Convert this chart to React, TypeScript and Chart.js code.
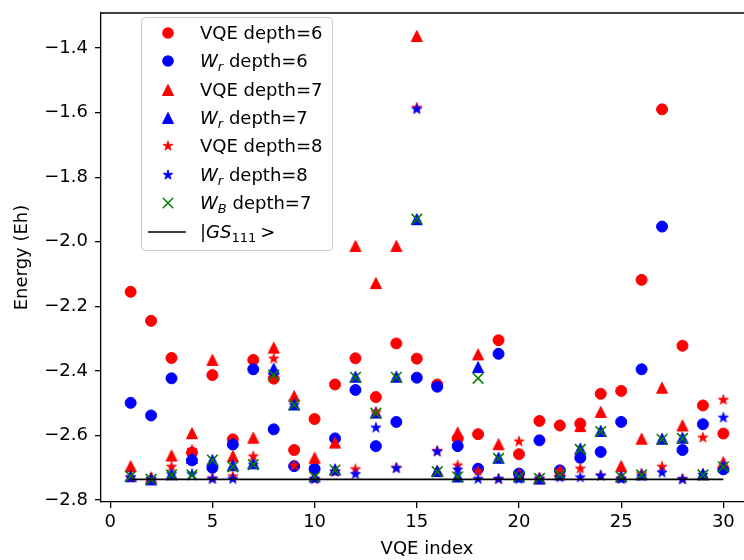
import React, { useEffect, useRef } from "react";
import { Chart, registerables } from "chart.js";

Chart.register(...registerables);

// ---------- data ----------
const vqeIndex = [1, 2, 3, 4, 5, 6, 7, 8, 9, 10, 11, 12, 13, 14, 15, 16, 17, 18, 19, 20, 21, 22, 23, 24, 25, 26, 27, 28, 29, 30];

const vqeDepth6 = [-2.155, -2.245, -2.36, -2.653, -2.413, -2.612, -2.366, -2.424, -2.645, -2.549, -2.442, -2.361, -2.481, -2.315, -2.362, -2.442, -2.61, -2.596, -2.305, -2.658, -2.555, -2.569, -2.563, -2.471, -2.462, -2.118, -1.59, -2.322, -2.507, -2.594];
const wrDepth6 = [-2.499, -2.538, -2.423, -2.677, -2.7, -2.628, -2.395, -2.581, -2.695, -2.703, -2.609, -2.459, -2.633, -2.558, -2.421, -2.449, -2.633, -2.703, -2.347, -2.718, -2.615, -2.708, -2.669, -2.651, -2.558, -2.395, -1.953, -2.645, -2.565, -2.705];
const vqeDepth7 = [-2.695, -2.73, -2.662, -2.593, -2.366, -2.664, -2.607, -2.328, -2.478, -2.669, -2.622, -2.013, -2.128, -2.013, -1.363, -2.71, -2.591, -2.349, -2.627, -2.72, -2.733, -2.71, -2.571, -2.527, -2.695, -2.61, -2.452, -2.569, -2.72, -2.683];
const wrDepth7 = [-2.726, -2.736, -2.72, -2.67, -2.676, -2.692, -2.686, -2.393, -2.504, -2.727, -2.705, -2.418, -2.529, -2.418, -1.93, -2.71, -2.727, -2.388, -2.669, -2.727, -2.733, -2.72, -2.641, -2.586, -2.727, -2.72, -2.61, -2.607, -2.72, -2.695];
const vqeDepth8 = [-2.73, -2.735, -2.697, -2.645, -2.733, -2.727, -2.665, -2.362, -2.693, -2.735, -2.712, -2.705, -2.529, -2.7, -1.585, -2.648, -2.693, -2.711, -2.735, -2.619, -2.733, -2.71, -2.703, -2.724, -2.733, -2.72, -2.697, -2.735, -2.607, -2.49];
const wrDepth8 = [-2.73, -2.735, -2.72, -2.72, -2.735, -2.735, -2.69, -2.405, -2.505, -2.735, -2.712, -2.72, -2.576, -2.702, -1.59, -2.65, -2.706, -2.735, -2.735, -2.735, -2.735, -2.73, -2.73, -2.725, -2.735, -2.726, -2.715, -2.736, -2.722, -2.545];
const wbDepth7 = [-2.726, -2.736, -2.722, -2.722, -2.676, -2.697, -2.69, -2.413, -2.505, -2.728, -2.707, -2.42, -2.531, -2.42, -1.93, -2.712, -2.728, -2.423, -2.671, -2.728, -2.733, -2.722, -2.643, -2.588, -2.728, -2.722, -2.612, -2.609, -2.722, -2.697];

const gsIndex = [1, 30];
const gsEnergy = [-2.736, -2.736];

const xTicks = [0, 5, 10, 15, 20, 25, 30];
const yTicks = [-2.8, -2.6, -2.4, -2.2, -2.0, -1.8, -1.6, -1.4];

// ---------- style ----------
const RED = "#ff0000";
const BLUE = "#0000ff";
const GREEN = "#008000";
const FONT = "'DejaVu Sans', sans-serif";
const FS = 18;

function pts(xs: number[], ys: number[]) {
  return xs.map((x, i) => ({ x, y: ys[i] }));
}

function makeCanvas(size: number, draw: (c: CanvasRenderingContext2D) => void) {
  const cv = document.createElement("canvas");
  cv.width = size;
  cv.height = size;
  const c = cv.getContext("2d")!;
  draw(c);
  return cv;
}

function triangleImg(color: string) {
  return makeCanvas(14, (c) => {
    c.beginPath();
    c.moveTo(7, 1.5);
    c.lineTo(12.5, 12.5);
    c.lineTo(1.5, 12.5);
    c.closePath();
    c.fillStyle = color;
    c.fill();
    c.strokeStyle = color;
    c.lineWidth = 1;
    c.stroke();
  });
}

function starPath(cx: number, cy: number, ro: number, ri: number) {
  const p: [number, number][] = [];
  for (let k = 0; k < 10; k++) {
    const r = k % 2 === 0 ? ro : ri;
    const a = -Math.PI / 2 + (k * Math.PI) / 5;
    p.push([cx + r * Math.cos(a), cy + r * Math.sin(a)]);
  }
  return p;
}

function starImg(color: string) {
  return makeCanvas(14, (c) => {
    const p = starPath(7, 7, 5.4, 2.1);
    c.beginPath();
    p.forEach(([x, y], i) => (i === 0 ? c.moveTo(x, y) : c.lineTo(x, y)));
    c.closePath();
    c.fillStyle = color;
    c.fill();
    c.strokeStyle = color;
    c.lineWidth = 0.8;
    c.stroke();
  });
}

function Marker({ kind, color }: { kind: string; color: string }) {
  if (kind === "line") {
    return (
      <svg width={40} height={20} style={{ position: "absolute", left: 5, top: 4 }}>
        <line x1={1} y1={10} x2={39} y2={10} stroke="#000" strokeWidth={1.6} />
      </svg>
    );
  }
  let shape: React.ReactNode = null;
  if (kind === "circle") shape = <circle cx={10} cy={10} r={5.8} fill={color} />;
  if (kind === "triangle") shape = <polygon points="10,4.5 15.5,15.5 4.5,15.5" fill={color} stroke={color} strokeWidth={1} />;
  if (kind === "star") {
    const p = starPath(10, 10, 5.2, 2.0).map(([x, y]) => `${x.toFixed(2)},${y.toFixed(2)}`).join(" ");
    shape = <polygon points={p} fill={color} stroke={color} strokeWidth={0.8} />;
  }
  if (kind === "x")
    shape = (
      <g stroke={color} strokeWidth={1.5}>
        <line x1={4.8} y1={4.8} x2={15.2} y2={15.2} />
        <line x1={15.2} y1={4.8} x2={4.8} y2={15.2} />
      </g>
    );
  return (
    <svg width={20} height={20} style={{ position: "absolute", left: 16, top: 4 }}>
      {shape}
    </svg>
  );
}

const Wsub = ({ s }: { s: string }) => (
  <span>
    <i>W</i>
    <i style={{ fontSize: 13, position: "relative", top: 4 }}>{s}</i>
  </span>
);

const legendRows: { kind: string; color: string; label: React.ReactNode }[] = [
  { kind: "circle", color: RED, label: <span>VQE depth=6</span> },
  { kind: "circle", color: BLUE, label: <span><Wsub s="r" /> depth=6</span> },
  { kind: "triangle", color: RED, label: <span>VQE depth=7</span> },
  { kind: "triangle", color: BLUE, label: <span><Wsub s="r" /> depth=7</span> },
  { kind: "star", color: RED, label: <span>VQE depth=8</span> },
  { kind: "star", color: BLUE, label: <span><Wsub s="r" /> depth=8</span> },
  { kind: "x", color: GREEN, label: <span><Wsub s="B" /> depth=7</span> },
  {
    kind: "line",
    color: "#000",
    label: (
      <span>
        |<i>GS</i>
        <span style={{ fontSize: 13, position: "relative", top: 4 }}>111</span>
        <span style={{ marginLeft: 4 }}>&gt;</span>
      </span>
    ),
  },
];

function Legend() {
  return (
    <div
      style={{
        position: "absolute",
        left: 141,
        top: 17,
        width: 192,
        height: 234,
        boxSizing: "border-box",
        border: "1px solid #cccccc",
        borderRadius: 4,
        background: "rgba(255,255,255,0.85)",
        fontFamily: FONT,
        fontSize: FS,
        color: "#000",
      }}
    >
      {legendRows.map((r, i) => (
        <div key={i} style={{ position: "absolute", left: 0, top: 15.7 + i * 28.43 - 14 - 1, height: 28, width: 190 }}>
          <Marker kind={r.kind} color={r.color} />
          <div style={{ position: "absolute", left: 58, top: 0, height: 28, lineHeight: "28px", whiteSpace: "nowrap" }}>{r.label}</div>
        </div>
      ))}
    </div>
  );
}

const fmtY = (v: number) => (v < 0 ? "\u2212" : "") + Math.abs(v).toFixed(1);

function zeroPad(s: any) {
  s.paddingTop = 0;
  s.paddingBottom = 0;
  s.paddingLeft = 0;
  s.paddingRight = 0;
}

export default function App() {
  const ref = useRef<HTMLCanvasElement>(null);

  useEffect(() => {
    const canvas = ref.current!;
    const triR = triangleImg(RED);
    const triB = triangleImg(BLUE);
    const starR = starImg(RED);
    const starB = starImg(BLUE);

    const topSpine = {
      id: "topSpine",
      afterDraw(chart: any) {
        const { ctx, chartArea } = chart;
        ctx.save();
        ctx.strokeStyle = "#000";
        ctx.lineWidth = 1.3;
        ctx.beginPath();
        ctx.moveTo(chartArea.left, chartArea.top);
        ctx.lineTo(chartArea.right, chartArea.top);
        ctx.stroke();
        ctx.restore();
      },
    };

    const font = { family: FONT, size: FS };

    const chart = new Chart(canvas, {
      type: "scatter",
      data: {
        datasets: [
          { label: "VQE depth=6", data: pts(vqeIndex, vqeDepth6), pointStyle: "circle", pointRadius: 5.5, pointBorderWidth: 1, backgroundColor: RED, borderColor: RED, order: 8 },
          { label: "Wr depth=6", data: pts(vqeIndex, wrDepth6), pointStyle: "circle", pointRadius: 5.5, pointBorderWidth: 1, backgroundColor: BLUE, borderColor: BLUE, order: 7 },
          { label: "VQE depth=7", data: pts(vqeIndex, vqeDepth7), pointStyle: triR as any, backgroundColor: RED, borderColor: RED, order: 6 },
          { label: "Wr depth=7", data: pts(vqeIndex, wrDepth7), pointStyle: triB as any, backgroundColor: BLUE, borderColor: BLUE, order: 5 },
          { label: "VQE depth=8", data: pts(vqeIndex, vqeDepth8), pointStyle: starR as any, backgroundColor: RED, borderColor: RED, order: 4 },
          { label: "Wr depth=8", data: pts(vqeIndex, wrDepth8), pointStyle: starB as any, backgroundColor: BLUE, borderColor: BLUE, order: 3 },
          { label: "WB depth=7", data: pts(vqeIndex, wbDepth7), pointStyle: "crossRot", pointRadius: 7.5, pointBorderWidth: 1.6, backgroundColor: GREEN, borderColor: GREEN, order: 2 },
          { label: "|GS111>", data: pts(gsIndex, gsEnergy), showLine: true, pointRadius: 0, borderColor: "#000", borderWidth: 1.8, backgroundColor: "#000", order: 0 } as any,
        ],
      },
      options: {
        animation: false,
        responsive: false,
        devicePixelRatio: 1,
        layout: { autoPadding: false, padding: { top: 13, right: 0, left: 0, bottom: 0 } },
        plugins: { legend: { display: false }, tooltip: { enabled: false } },
        scales: {
          x: {
            type: "linear",
            min: -0.45,
            max: 31.45,
            afterBuildTicks: (s: any) => {
              s.ticks = xTicks.map((v) => ({ value: v }));
            },
            afterFit: (s: any) => {
              s.height = 58;
              zeroPad(s);
            },
            ticks: { font, color: "#000", padding: 4, autoSkip: false, maxRotation: 0, callback: (v: any) => String(v) },
            grid: { drawOnChartArea: false, drawTicks: true, tickLength: 6, color: "#000", lineWidth: 1.3 },
            border: { display: true, color: "#000", width: 1.3 },
            title: { display: true, text: "VQE index", font, color: "#000", padding: { top: 0, bottom: 0 } },
          },
          y: {
            type: "linear",
            min: -2.806,
            max: -1.2916,
            afterBuildTicks: (s: any) => {
              s.ticks = yTicks.map((v) => ({ value: v }));
            },
            afterFit: (s: any) => {
              s.width = 101;
              zeroPad(s);
            },
            ticks: { font, color: "#000", padding: 7, autoSkip: false, callback: (v: any) => fmtY(Number(v)) },
            grid: { drawOnChartArea: false, drawTicks: true, tickLength: 6, color: "#000", lineWidth: 1.3 },
            border: { display: true, color: "#000", width: 1.3 },
            title: { display: true, text: "Energy (Eh)", font, color: "#000", padding: { top: 12, bottom: 0 } },
          },
        },
      },
      plugins: [topSpine],
    });
    return () => chart.destroy();
  }, []);

  return (
    <div style={{ position: "absolute", left: 0, top: 0, width: 744, height: 560, background: "#fff", overflow: "hidden" }}>
      <canvas ref={ref} width={753} height={560} style={{ display: "block", width: 753, height: 560 }} />
      <Legend />
    </div>
  );
}
